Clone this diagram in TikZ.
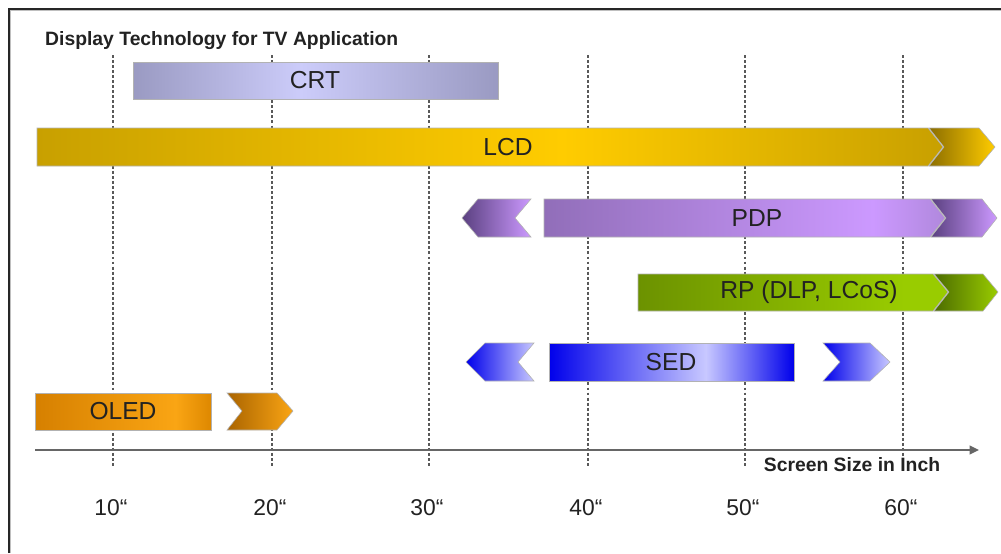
\documentclass[tikz,border=0pt]{standalone}
\usepackage{fontspec}
\setmainfont{Liberation Sans}
\usetikzlibrary{arrows.meta}
\definecolor{crtdark}{RGB}{154,154,194}
\definecolor{crtlight}{RGB}{204,204,250}
\definecolor{lcddark}{RGB}{200,160,0}
\definecolor{lcdlight}{RGB}{255,204,0}
\definecolor{lcddeep}{RGB}{140,110,0}
\definecolor{pdpdark}{RGB}{145,110,185}
\definecolor{pdplight}{RGB}{204,153,255}
\definecolor{pdpend}{RGB}{176,136,221}
\definecolor{pdpdeep}{RGB}{90,64,128}
\definecolor{rpdark}{RGB}{108,146,0}
\definecolor{rplight}{RGB}{153,204,0}
\definecolor{rpdeep}{RGB}{76,108,0}
\definecolor{seddark}{RGB}{0,0,235}
\definecolor{sedlight}{RGB}{200,200,255}
\definecolor{oleddark}{RGB}{214,128,0}
\definecolor{oledlight}{RGB}{250,165,20}
\definecolor{oledend}{RGB}{222,136,0}
\definecolor{oleddeep}{RGB}{170,100,0}
\definecolor{inkgray}{RGB}{34,34,34}
% bar fills, left to right (the path box spans 25bp..75bp)
\pgfdeclarehorizontalshading{crtbar}{100bp}{color(0bp)=(crtdark); color(25bp)=(crtdark); color(48bp)=(crtlight); color(75bp)=(crtdark); color(100bp)=(crtdark)}
\pgfdeclarehorizontalshading{lcdbar}{100bp}{color(0bp)=(lcddark); color(25bp)=(lcddark); color(54bp)=(lcdlight); color(75bp)=(lcddark); color(100bp)=(lcddark)}
\pgfdeclarehorizontalshading{lcdtip}{100bp}{color(0bp)=(lcddeep); color(25bp)=(lcddeep); color(75bp)=(lcdlight); color(100bp)=(lcdlight)}
\pgfdeclarehorizontalshading{pdpbar}{100bp}{color(0bp)=(pdpdark); color(25bp)=(pdpdark); color(66bp)=(pdplight); color(75bp)=(pdpend); color(100bp)=(pdpend)}
\pgfdeclarehorizontalshading{pdptip}{100bp}{color(0bp)=(pdpdeep); color(25bp)=(pdpdeep); color(75bp)=(pdplight); color(100bp)=(pdplight)}
\pgfdeclarehorizontalshading{rpbar}{100bp}{color(0bp)=(rpdark); color(25bp)=(rpdark); color(68bp)=(rplight); color(75bp)=(rplight); color(100bp)=(rplight)}
\pgfdeclarehorizontalshading{rptip}{100bp}{color(0bp)=(rpdeep); color(25bp)=(rpdeep); color(75bp)=(rplight); color(100bp)=(rplight)}
\pgfdeclarehorizontalshading{sedbar}{100bp}{color(0bp)=(seddark); color(25bp)=(seddark); color(57bp)=(sedlight); color(75bp)=(seddark); color(100bp)=(seddark)}
\pgfdeclarehorizontalshading{sedtip}{100bp}{color(0bp)=(seddark); color(25bp)=(seddark); color(75bp)=(sedlight); color(100bp)=(sedlight)}
\pgfdeclarehorizontalshading{oledbar}{100bp}{color(0bp)=(oleddark); color(25bp)=(oleddark); color(65bp)=(oledlight); color(75bp)=(oledend); color(100bp)=(oledend)}
\pgfdeclarehorizontalshading{oledtip}{100bp}{color(0bp)=(oleddeep); color(25bp)=(oleddeep); color(75bp)=(oledlight); color(100bp)=(oledlight)}

\begin{document}
\begin{tikzpicture}[x=0.03cm,y=-0.03cm,
  bar/.style={draw=black!30,line width=0.5pt},
  bartext/.style={font=\fontsize{21}{25}\selectfont,text=inkgray},
  ticktext/.style={font=\fontsize{19.5}{23}\selectfont,text=inkgray},
  headtext/.style={font=\bfseries\fontsize{16.5}{20}\selectfont,text=inkgray},
  gridline/.style={black!65,line width=1.1pt,dash pattern=on 2.5pt off 1.8pt},
  axisline/.style={black!60,line width=1.3pt}]
\useasboundingbox (0,0) rectangle (1001,553);
% frame
\draw[black!25,line width=1pt] (10.6,553) -- (10.6,10.6) -- (1001,10.6);
\draw[black!85,line width=1.6pt] (9,553) -- (9,9) -- (1001,9);
\node[headtext,anchor=base west,inner sep=0pt] (title) at (45,45) {Display Technology for TV Application};
% size grid
\foreach \inch/\px in {10/113,20/272,30/429,40/588,50/745,60/903} {
  \coordinate (top\inch) at (\px,55);
  \coordinate (bot\inch) at (\px,467);
  \draw[gridline] (top\inch) -- (bot\inch);
  \node[ticktext] (tick\inch) at (\px-2,508) {{\inch}“};
}
% CRT
\shadedraw[bar,shading=crtbar] (133,62) rectangle (498,99);
\node[bartext] (crt) at (315,80) {CRT};
% LCD
\shadedraw[bar,shading=lcdbar] (37,128) -- (928,128) -- (943,147) -- (928,166) -- (37,166) -- cycle;
\shadedraw[bar,shading=lcdtip] (929,128) -- (979,128) -- (995,147) -- (979,166) -- (929,166) -- (944,147) -- cycle;
\node[bartext] (lcd) at (508,147) {LCD};
% PDP
\shadedraw[bar,shading=pdptip] (462,218) -- (478,199) -- (531,199) -- (515,218) -- (531,237) -- (478,237) -- cycle;
\shadedraw[bar,shading=pdpbar] (544,199) -- (930,199) -- (945,218) -- (930,237) -- (544,237) -- cycle;
\shadedraw[bar,shading=pdptip] (931,199) -- (982,199) -- (997,218) -- (982,237) -- (931,237) -- (946,218) -- cycle;
\node[bartext] (pdp) at (757,218) {PDP};
% RP
\shadedraw[bar,shading=rpbar] (638,274) -- (933,274) -- (948,292) -- (933,311) -- (638,311) -- cycle;
\shadedraw[bar,shading=rptip] (934,274) -- (983,274) -- (998,292) -- (983,311) -- (934,311) -- (949,292) -- cycle;
\node[bartext] (rp) at (809,292) {RP (DLP, LCoS)};
% SED
\shadedraw[bar,shading=sedtip] (466,362) -- (485,343) -- (534,343) -- (518,362) -- (534,381) -- (485,381) -- cycle;
\shadedraw[bar,shading=sedbar] (549,343) rectangle (794,381);
\shadedraw[bar,shading=sedtip] (823,343) -- (870,343) -- (890,362) -- (870,381) -- (823,381) -- (840,362) -- cycle;
\node[bartext] (sed) at (671,362) {SED};
% OLED
\shadedraw[bar,shading=oledbar] (35,393) rectangle (211,430);
\shadedraw[bar,shading=oledtip] (227,393) -- (277,393) -- (293,411) -- (277,430) -- (227,430) -- (242,411) -- cycle;
\node[bartext] (oled) at (123,411) {OLED};
% size axis
\coordinate (axstart) at (35,450);
\coordinate (axend) at (979,450);
\draw[axisline,-{Triangle[length=8pt,width=7.5pt]}] (axstart) -- (axend);
\node[headtext,fill=white,inner sep=1.5pt] (axlabel) at (852,465) {Screen Size in Inch};
\end{tikzpicture}
\end{document}
